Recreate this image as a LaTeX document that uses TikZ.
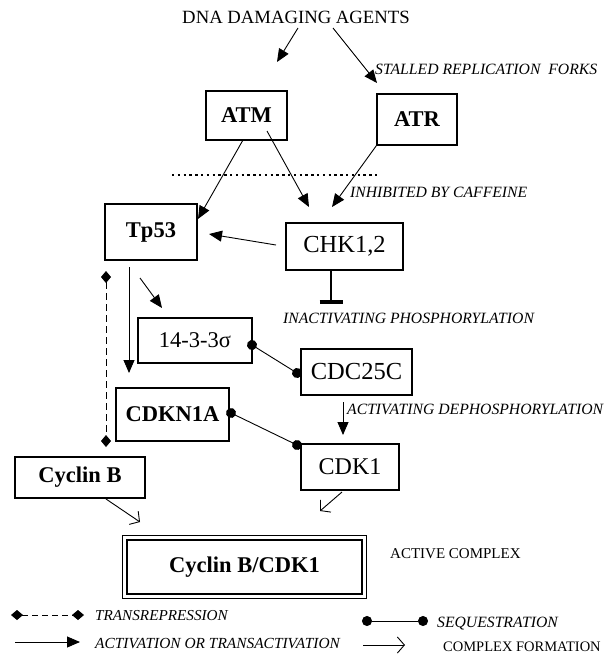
\documentclass[tikz,border=0pt]{standalone}
\usepackage{fontspec}
\setmainfont{Liberation Serif}
\usetikzlibrary{arrows.meta,calc}

\newcommand{\fsz}[1]{\fontsize{#1}{#1}\selectfont}

\tikzset{
  box/.style={draw, line width=1.2pt, inner sep=0pt, align=center},
  gene/.style={box, font=\fsz{22.5}\bfseries},
  prot/.style={box, font=\fsz{24.5}},
  note/.style={font=\fsz{15.7}\itshape, anchor=base west, inner sep=0pt},
  plain/.style={font=\fsz{15}, anchor=base west, inner sep=0pt},
  act/.style={line width=0.9pt, -{Triangle[length=13pt,width=11pt]}},
  cplx/.style={line width=0.9pt, -{Straight Barb[length=7pt,width=16pt,line width=0.9pt]}},
  seq/.style={line width=0.9pt, {Circle[length=10pt]}-{Circle[length=10pt]},
              shorten <=-5pt, shorten >=-5pt},
  trep/.style={line width=0.9pt, dash pattern=on 7pt off 4pt,
               {Diamond[length=12pt,width=10pt]}-{Diamond[length=12pt,width=10pt]},
               shorten <=-6pt, shorten >=-6pt},
}

\begin{document}
\begin{tikzpicture}[x=1pt,y=-1pt]
\useasboundingbox (0,0) rectangle (613,664);

% ---------- labels ----------
\node[font=\fsz{18.7}, anchor=base, inner sep=0pt] (title) at (296,23) {DNA DAMAGING AGENTS};
\node[note] (stalled) at (375,74) {STALLED REPLICATION\ \ FORKS};
\node[note] (caff) at (350,197) {INHIBITED BY CAFFEINE};
\node[note] (inact) at (283,323) {INACTIVATING PHOSPHORYLATION};
\node[note] (dephos) at (347,414) {ACTIVATING DEPHOSPHORYLATION};
\node[plain] (activec) at (390,558) {ACTIVE COMPLEX};

% ---------- boxes ----------
\node[gene, minimum width=81pt, minimum height=49pt] (atm) at (246.5,115.5) {ATM};
\node[gene, minimum width=80pt, minimum height=51pt] (atr) at (417,119.5) {ATR};
\node[gene, minimum width=92pt, minimum height=56pt] (tp53) at (151,232) {Tp53};
\node[prot, minimum width=117pt, minimum height=47pt] (chk) at (344.5,246.5) {CHK1,2};
\node[box, font=\fsz{22.5}, minimum width=114pt, minimum height=45pt] (s1433) at (195,340.5) {14-3-3σ};
\node[prot, minimum width=111pt, minimum height=46pt] (cdc) at (356.5,372) {CDC25C};
\node[gene, minimum width=113pt, minimum height=53pt] (cdkn) at (172.5,414.5) {CDKN1A};
\node[box, font=\fsz{24}, minimum width=98pt, minimum height=46pt] (cdk1) at (350,467) {CDK1};
\node[gene, minimum width=130pt, minimum height=41pt] (cycb) at (80,477.5) {Cyclin B};
\node[gene, draw=none, minimum width=243pt, minimum height=62pt] (cplx) at (244.5,567) {Cyclin B/CDK1};
\draw[line width=0.8pt] (cplx.north west) rectangle (cplx.south east);
\draw[line width=1.3pt] ($(cplx.north west)+(4.5,4.5)$) rectangle ($(cplx.south east)+(-4.5,-4.5)$);

% ---------- connector end points ----------
\coordinate (t1) at (298,28);   \coordinate (t1e) at (277,62);
\coordinate (t2) at (333,28);   \coordinate (t2e) at (377,83);
\coordinate (atmA) at (243,140); \coordinate (tpIn) at (198,219);
\coordinate (atmB) at (267,131); \coordinate (chkA) at (309,207);
\coordinate (chkB) at (332,207);
\coordinate (chkOut) at (276,245); \coordinate (tpIn2) at (209,234);
\coordinate (barTop) at (331,270); \coordinate (barEnd) at (331,302);
\coordinate (tpDown) at (129,267); \coordinate (tpDownE) at (129,373);
\coordinate (tpSide) at (140,278); \coordinate (tpSideE) at (162,308);
\coordinate (trTop) at (106,277); \coordinate (trBot) at (106,441);
\coordinate (sqA) at (252,345); \coordinate (sqB) at (297,373);
\coordinate (sqC) at (231,413); \coordinate (sqD) at (297,445);
\coordinate (dpA) at (343,402); \coordinate (dpB) at (343,435);
\coordinate (cyA) at (106,499); \coordinate (cyB) at (140,522);
\coordinate (ckA) at (342,492); \coordinate (ckB) at (320,511);

% ---------- connectors ----------
\draw[act] (t1) -- (t1e);
\draw[act] (t2) -- (t2e);
\draw[act] (atmA) -- (tpIn);
\draw[act] (atmB) -- (chkA);
\draw[act] (atr.south west) -- (chkB);
\draw[act] (chkOut) -- (tpIn2);

% caffeine block
\draw[line width=2.4pt, dash pattern=on 2.4pt off 3.4pt] (172,175) -- (377,175);

% inhibition bar below CHK1,2
\draw[line width=2.8pt] (barTop) -- (barEnd);
\draw[line width=3.2pt] ($(barEnd)+(-11.5,0)$) -- ($(barEnd)+(11.5,0)$);

\draw[act] (tpDown) -- (tpDownE);
\draw[act] (tpSide) -- (tpSideE);
\draw[trep] (trTop) -- (trBot);
\draw[seq] (sqA) -- (sqB);
\draw[seq] (sqC) -- (sqD);
\draw[act] (dpA) -- (dpB);
\draw[cplx] (cyA) -- (cyB);
\draw[cplx] (ckA) -- (ckB);

% ---------- legend ----------
\coordinate (lg1a) at (17,615);  \coordinate (lg1b) at (78,615);
\coordinate (lg2a) at (15,642);  \coordinate (lg2b) at (80,642);
\coordinate (lg3a) at (367,621); \coordinate (lg3b) at (423,621);
\coordinate (lg4a) at (363,645); \coordinate (lg4b) at (405,645);
\draw[trep, dash pattern=on 6pt off 4pt] (lg1a) -- (lg1b);
\draw[act] (lg2a) -- (lg2b);
\draw[seq] (lg3a) -- (lg3b);
\draw[cplx] (lg4a) -- (lg4b);
\node[note, font=\fsz{15.2}\itshape] (lgt1) at (95,620) {TRANSREPRESSION};
\node[note, font=\fsz{15.4}\itshape] (lgt2) at (95,648) {ACTIVATION OR TRANSACTIVATION};
\node[note] (lgt3) at (437,627) {SEQUESTRATION};
\node[plain, font=\fsz{14.5}] (lgt4) at (443,651) {COMPLEX FORMATION};
\end{tikzpicture}
\end{document}
